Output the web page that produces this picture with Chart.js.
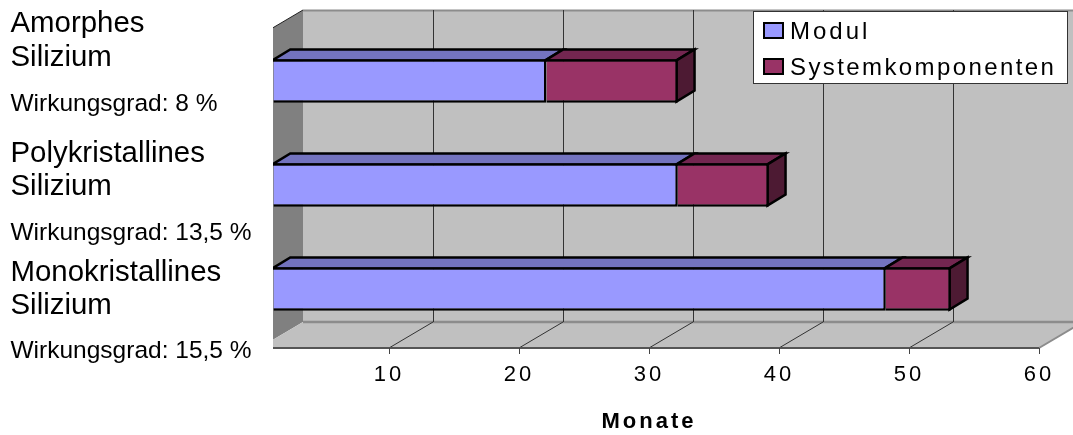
<!DOCTYPE html>
<html><head><meta charset="utf-8">
<style>html,body{margin:0;padding:0;background:#fff}canvas{display:block}</style>
<script src="https://cdn.jsdelivr.net/npm/chart.js@4"></script>
</head><body><canvas id="c" width="1073" height="435"></canvas>
<script>
const categories = ['Amorphes Silizium', 'Polykristallines Silizium', 'Monokristallines Silizium'];
const efficiency = ['Wirkungsgrad: 8 %', 'Wirkungsgrad: 13,5 %', 'Wirkungsgrad: 15,5 %'];
const modul = [21, 31.1, 47.1];
const systemkomponenten = [10.1, 7, 5];
const seriesNames = ['Modul', 'Systemkomponenten'];
const axisTitle = 'Monate';

const FONT = '"Liberation Sans", Arial, sans-serif';
const WALL = {dx: 44, dy: 26};
const BAR = {dx: 18, dy: 11, shiftX: 14.5, shiftY: -7};
const CLIP_X = 273;
const BORDER = 2.5;
const faces = [
  {front: '#9999FF', top: '#7373BF', side: '#4D4D80'},
  {front: '#993366', top: '#732650', side: '#4D1A33'}
];
const labelBaselines = [[32, 66, 110.5], [162, 195, 240], [281, 314, 357.5]];
const legendSpacing = ['3px', '2.4px'];

function poly(ctx, pts, fill, stroke, lw) {
  ctx.beginPath();
  pts.forEach((p, i) => i ? ctx.lineTo(p[0], p[1]) : ctx.moveTo(p[0], p[1]));
  ctx.closePath();
  if (fill) { ctx.fillStyle = fill; ctx.fill(); }
  if (stroke) { ctx.strokeStyle = stroke; ctx.lineWidth = lw; ctx.lineJoin = 'miter'; ctx.stroke(); }
}
function line(ctx, x0, y0, x1, y1, color, lw) {
  ctx.beginPath(); ctx.moveTo(x0, y0); ctx.lineTo(x1, y1);
  ctx.strokeStyle = color; ctx.lineWidth = lw; ctx.stroke();
}

const box3d = {
  id: 'box3d',
  beforeDraw(chart) {
    const {ctx, chartArea: a, scales: {x}} = chart;
    ctx.letterSpacing = '3px';
    const {dx, dy} = WALL;
    const R = a.right + dx, T = a.top - dy, B = a.bottom - dy;
    ctx.save();
    ctx.beginPath(); ctx.rect(CLIP_X, 0, chart.width - CLIP_X, chart.height); ctx.clip();
    poly(ctx, [[a.left + dx, T], [R, T], [R, B], [a.left + dx, B]], '#C0C0C0');
    poly(ctx, [[a.left, a.top], [a.left + dx, T], [a.left + dx, B], [a.left, a.bottom]], '#808080');
    poly(ctx, [[a.left, a.bottom], [a.left + dx, B], [R, B], [a.right, a.bottom]], '#C0C0C0');
    line(ctx, a.left + dx, T + .5, R, T + .5, '#8C8C8C', 2);
    line(ctx, a.left, a.top, a.left + dx, T, '#222', 1);
    line(ctx, a.left + dx, B, R, B, '#8C8C8C', 2.5);
    line(ctx, a.right, a.bottom, R, B, '#8C8C8C', 2);
    x.ticks.forEach(t => {
      const px = x.getPixelForValue(t.value);
      if (t.value >= 60) return;
      line(ctx, px + dx + .5, T, px + dx + .5, B, '#333', 1);
      line(ctx, px, a.bottom, px + dx, B, '#333', 1);
    });
    line(ctx, a.left, a.bottom, a.right, a.bottom, '#555', 2);
    ctx.restore();
  },
  beforeDatasetsDraw(chart) {
    const {ctx} = chart;
    ctx.save();
    ctx.beginPath(); ctx.rect(CLIP_X, 0, chart.width - CLIP_X, chart.height); ctx.clip();
    ctx.translate(BAR.shiftX, BAR.shiftY);
    const last = chart.data.datasets.length - 1;
    chart.data.datasets.forEach((ds, di) => {
      chart.getDatasetMeta(di).data.forEach(b => {
        const top = b.y - b.height / 2 + BORDER / 2, bot = b.y + b.height / 2 - BORDER / 2;
        const xs = b.base - BORDER / 2, xe = b.x - BORDER / 2;
        poly(ctx, [[xs, top], [xe, top], [xe + BAR.dx, top - BAR.dy], [xs + BAR.dx, top - BAR.dy]], faces[di].top, '#000', BORDER);
        if (di === last) {
          poly(ctx, [[xe, top], [xe + BAR.dx, top - BAR.dy], [xe + BAR.dx, bot - BAR.dy], [xe, bot]], faces[di].side, '#000', BORDER);
        }
      });
    });
    ctx.restore();
    ctx.save();
    ctx.translate(BAR.shiftX, BAR.shiftY);
  },
  afterDatasetsDraw(chart) {
    chart.ctx.restore();
    const {ctx, scales: {y}} = chart;
    ctx.save();
    // Category labels
    ctx.letterSpacing = '0px';
    ctx.fillStyle = '#000'; ctx.textAlign = 'left'; ctx.textBaseline = 'alphabetic';
    y.getLabels().forEach((label, i) => {
      const words = label.split(' ');
      const b = labelBaselines[i];
      ctx.font = '29.4px ' + FONT;
      ctx.fillText(words[0], 10.5, b[0]);
      ctx.fillText(words[1], 10.5, b[1]);
      ctx.font = '24.5px ' + FONT;
      ctx.fillText(efficiency[i], 10.5, b[2]);
    });
    // Legend
    ctx.fillStyle = '#fff'; ctx.fillRect(753.5, 11.5, 314, 72);
    ctx.strokeStyle = '#333'; ctx.lineWidth = 1; ctx.strokeRect(753.5, 11.5, 314, 72);
    chart.data.datasets.forEach((ds, i) => {
      const sy = 23 + i * 36;
      ctx.fillStyle = ds.backgroundColor; ctx.fillRect(764, sy, 19, 15);
      ctx.strokeStyle = '#000'; ctx.lineWidth = 2; ctx.strokeRect(764, sy, 19, 15);
      ctx.fillStyle = '#000';
      ctx.font = '24px ' + FONT;
      ctx.letterSpacing = legendSpacing[i];
      ctx.fillText(ds.label, 790, 38.5 + i * 36);
    });
    ctx.restore();
  }
};

new Chart(document.getElementById('c').getContext('2d'), {
  type: 'bar',
  plugins: [box3d],
  data: {
    labels: categories,
    datasets: [
      {label: seriesNames[0], data: modul, backgroundColor: faces[0].front, borderColor: '#000', borderWidth: BORDER, borderSkipped: 'left'},
      {label: seriesNames[1], data: systemkomponenten, backgroundColor: faces[1].front, borderColor: '#000', borderWidth: BORDER, borderSkipped: 'left'}
    ]
  },
  options: {
    indexAxis: 'y',
    responsive: false,
    animation: false,
    devicePixelRatio: 1,
    layout: {padding: {left: 0, top: 36, right: 34, bottom: 0}},
    datasets: {bar: {barPercentage: 1, categoryPercentage: 0.42, clip: false}},
    plugins: {legend: {display: false}, tooltip: {enabled: false}},
    scales: {
      x: {
        stacked: true, min: 0, max: 60,
        afterFit: s => { s.height = 87; },
        afterBuildTicks: s => { s.ticks = s.ticks.filter(t => t.value > 0); },
        border: {display: false},
        grid: {drawOnChartArea: false, drawTicks: true, tickLength: 6, color: '#444', lineWidth: 1},
        ticks: {stepSize: 10, color: '#000', font: {family: FONT, size: 22}, padding: 8, maxRotation: 0, autoSkip: false},
        title: {display: true, text: axisTitle, color: '#000', font: {family: FONT, size: 22, weight: 'bold'}, padding: {top: 0, bottom: 0}}
      },
      y: {
        stacked: true,
        afterFit: s => { s.width = 259; },
        border: {display: false},
        grid: {display: false},
        ticks: {display: false}
      }
    }
  }
});
</script></body></html>
